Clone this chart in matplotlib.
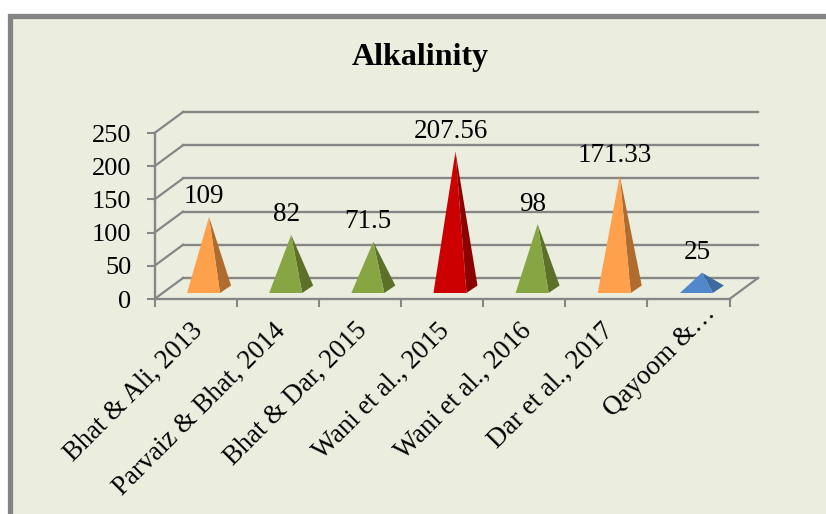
import matplotlib
matplotlib.use("Agg")
import matplotlib.pyplot as plt
from matplotlib.patches import Polygon, FancyBboxPatch
from matplotlib.transforms import ScaledTranslation

plt.rcParams['font.family'] = ['Liberation Serif', 'DejaVu Serif']

studies = ['Bhat & Ali, 2013', 'Parvaiz & Bhat, 2014', 'Bhat & Dar, 2015', 'Wani et al., 2015',
           'Wani et al., 2016', 'Dar et al., 2017', 'Qayoom &…']
value_labels = ['109', '82', '71.5', '207.56', '98', '171.33', '25']
alkalinity = [109, 82, 71.5, 207.56, 98, 171.33, 25]
front_colors = ['#FFA04D', '#88A544', '#88A544', '#CC0000', '#88A544', '#FFA04D', '#5287CC']
side_colors = ['#B06C2E', '#5C7029', '#5C7029', '#8B0000', '#5C7029', '#B06C2E', '#3D6A9F']
y_ticks = [0, 50, 100, 150, 200, 250]

W, H = 826, 514
GRID = '#868686'
BG = '#EBEEDF'

fig = plt.figure(figsize=(W / 100, H / 100), dpi=100, facecolor='white')

# panel with thick grey border, runs off the right and bottom of the image
frame = FancyBboxPatch((9.5 / W, 1 - 15.5 / H), 2, -2, boxstyle='square,pad=0', transform=fig.transFigure,
                       facecolor=BG, edgecolor='#848484', linewidth=3.8, zorder=-1)
fig.add_artist(frame)

fig.text(420 / W, 1 - 58 / H, 'Alkalinity', ha='center', va='center', fontsize=23, fontweight='bold', color='black')

# front plane of the fake 3d box
ax = fig.add_axes([154.5 / W, 1 - 299 / H, 575 / W, 166 / H])
ax.patch.set_alpha(0)
ax.set_xlim(0, len(studies))
ax.set_ylim(0, 250)

px_x = 575 / len(studies)
px_y = 166 / 250
depth_x = 28.5 / px_x   # back wall shift, data units
depth_y = 21 / px_y

# back wall grid
for v in y_ticks:
    ax.plot([0, depth_x], [v, v + depth_y], color=GRID, lw=1.6, clip_on=False, zorder=1)
    ax.plot([depth_x, len(studies) + depth_x], [v + depth_y, v + depth_y], color=GRID, lw=1.7, clip_on=False, zorder=1)
ax.plot([len(studies), len(studies) + depth_x], [0, depth_y], color=GRID, lw=1.6, clip_on=False, zorder=1)

# pyramids
base_y = 6 / px_y
base_left = 0.396
base_right = 0.798
side_x = 11 / px_x
side_y = 7.5 / px_y
for i, val in enumerate(alkalinity):
    fl = (i + base_left, base_y)
    fr = (i + base_right, base_y)
    br = (i + base_right + side_x, base_y + side_y)
    top = (i + (base_left + base_right) / 2 + side_x / 2, base_y + side_y / 2 + val)
    ax.add_patch(Polygon([fr, br, top], closed=True, facecolor=side_colors[i], edgecolor='none', clip_on=False, zorder=3))
    ax.add_patch(Polygon([fl, fr, top], closed=True, facecolor=front_colors[i], edgecolor='none', clip_on=False, zorder=4))
    ax.annotate(value_labels[i], xy=top, xytext=(-5, 20), textcoords='offset pixels', ha='center', va='center',
                fontsize=19.5, color='black', zorder=5, annotation_clip=False)

for s in ['top', 'right']:
    ax.spines[s].set_visible(False)
for s in ['left', 'bottom']:
    ax.spines[s].set_color(GRID)
    ax.spines[s].set_linewidth(1.7)
    ax.spines[s].set_zorder(2)

ax.set_yticks(y_ticks)
ax.set_yticklabels([str(v) for v in y_ticks], fontsize=19)
ax.tick_params(axis='y', length=5.5, width=1.5, color=GRID, pad=11)
ax.set_xticks(range(len(studies) + 1))
ax.set_xticklabels([])
ax.tick_params(axis='x', which='major', length=5.5, width=1.5, color=GRID)
ax.set_xticks([i + 0.5 for i in range(len(studies))], minor=True)
ax.set_xticklabels(studies, minor=True, rotation=45, ha='right', va='top', rotation_mode='anchor', fontsize=19.3)
ax.tick_params(axis='x', which='minor', length=0, pad=16)

# nudge the slanted labels, the cut off last one sits further up and right
labels = ax.get_xticklabels(minor=True)
for n, lab in enumerate(labels):
    dx, dy = (-5, 3) if n < len(labels) - 1 else (14, 20)
    lab.set_transform(lab.get_transform() + ScaledTranslation(dx / 100, dy / 100, fig.dpi_scale_trans))

fig.savefig('out.png', dpi=100, facecolor='white')
